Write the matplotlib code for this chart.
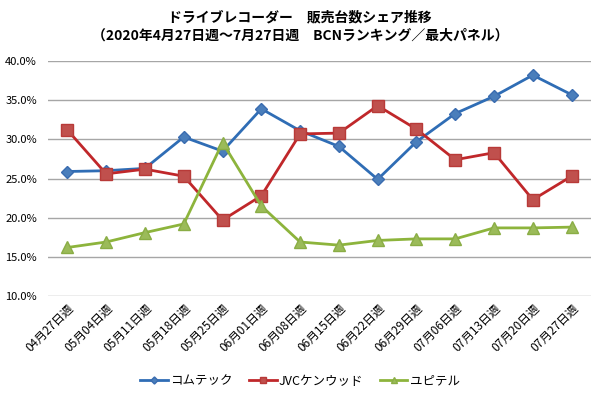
import matplotlib.pyplot as plt
from matplotlib.ticker import PercentFormatter

plt.rcParams['font.family'] = ['Noto Sans CJK JP', 'DejaVu Sans']

# 週ラベル
weeks = ['04月27日週', '05月04日週', '05月11日週', '05月18日週', '05月25日週',
         '06月01日週', '06月08日週', '06月15日週', '06月22日週', '06月29日週',
         '07月06日週', '07月13日週', '07月20日週', '07月27日週']

# シェア(%)
comtec = [25.9, 26.0, 26.3, 30.3, 28.5, 33.9, 31.1, 29.1, 24.9, 29.7, 33.3, 35.5, 38.2, 35.7]
jvc = [31.2, 25.6, 26.2, 25.3, 19.7, 22.8, 30.7, 30.8, 34.3, 31.3, 27.4, 28.3, 22.3, 25.3]
yupiteru = [16.2, 16.9, 18.1, 19.2, 29.6, 21.5, 16.9, 16.5, 17.1, 17.3, 17.3, 18.7, 18.7, 18.8]

series_names = ['コムテック', 'JVCケンウッド', 'ユピテル']

fig = plt.figure(figsize=(6, 3.99), dpi=100)
ax = fig.add_axes((0.08, 0.258, 0.905, 0.589))

x = list(range(len(weeks)))
ax.plot(x, comtec, color='#2f6db5', lw=2, marker='D', ms=6,
        mfc='#4a7ebb', mec='#3a6cb0', label=series_names[0])
ax.plot(x, jvc, color='#c0272a', lw=2, marker='s', ms=8,
        mfc='#c0504d', mec='#b83a38', label=series_names[1])
ax.plot(x, yupiteru, color='#8db43c', lw=2, marker='^', ms=8,
        mfc='#9bbb59', mec='#8aad45', label=series_names[2])

ax.set_ylim(10, 40)
ax.set_xlim(-0.5, len(weeks) - 0.5)
ax.set_yticks([10, 15, 20, 25, 30, 35, 40])
ax.yaxis.set_major_formatter(PercentFormatter(decimals=1))
ax.grid(axis='y', color='#a6a6a6', lw=1)
ax.set_axisbelow(True)
for s in ax.spines.values():
    s.set_visible(False)
ax.tick_params(axis='both', length=0, labelsize=8)
ax.tick_params(axis='y', pad=8)

ax.set_xticks(x)
ax.set_xticklabels(weeks, rotation=45, ha='right', rotation_mode='anchor', fontsize=8.5)
ax.tick_params(axis='x', pad=4)

fig.text(0.5, 0.975, 'ドライブレコーダー　販売台数シェア推移', ha='center', va='top',
         fontsize=10, fontweight='bold')
fig.text(0.5, 0.928, '（2020年4月27日週～7月27日週　BCNランキング／最大パネル）', ha='center', va='top',
         fontsize=10, fontweight='bold')

fig.legend(loc='center', bbox_to_anchor=(0.5, 0.045), ncol=3, frameon=False,
           fontsize=9, handlelength=2.2, handletextpad=0.2, columnspacing=1.3,
           markerscale=0.6)

fig.savefig('out.png', dpi=100)
